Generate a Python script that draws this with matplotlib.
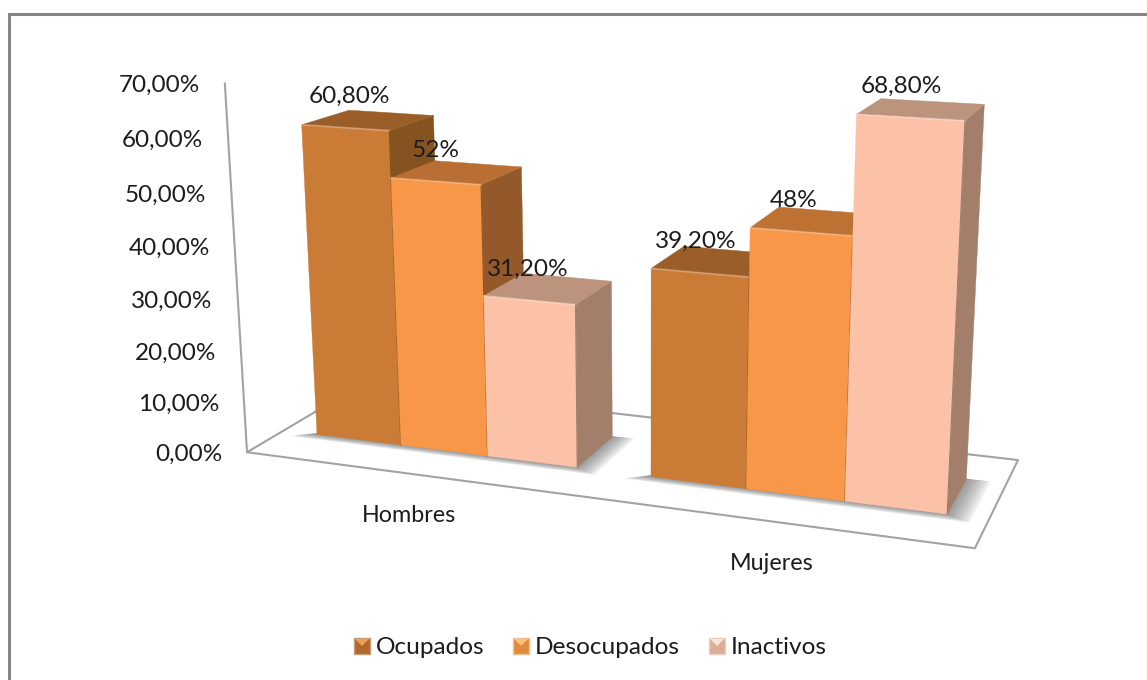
import numpy as np
import matplotlib
matplotlib.use('Agg')
import matplotlib.pyplot as plt
from matplotlib.patches import Polygon, Rectangle

plt.rcParams['font.family'] = ['Lato', 'DejaVu Sans']

categories = ['Hombres', 'Mujeres']
series_names = ['Ocupados', 'Desocupados', 'Inactivos']
ocupados = [60.8, 39.2]
desocupados = [52, 48]
inactivos = [31.2, 68.8]
value_labels = [['60,80%', '39,20%'], ['52%', '48%'], ['31,20%', '68,80%']]
ticks = [0, 10, 20, 30, 40, 50, 60, 70]
tick_labels = ['0,00%', '10,00%', '20,00%', '30,00%', '40,00%', '50,00%', '60,00%', '70,00%']

# front, top, side colours per series
colors = [('#CA7C37', '#9C5E28', '#84531F'),
          ('#F89747', '#B96F33', '#93592A'),
          ('#FCC2A7', '#BC937D', '#A37F6B')]
# legend key: body, top triangle, border
legend_colors = [('#B2682C', '#E9A254', '#C79A78'),
                 ('#E18A3C', '#FFC272', '#EDBE98'),
                 ('#DDAE96', '#FBE3D6', '#E6CFC4')]
text_color = '#1c1c1c'
line_color = '#a3a3a3'

# bar layout in world units: one unit per category, depth 0..1
margin = 0.105
bar_w = (1 - 2 * margin) / 3
d0, d1 = 0.3, 0.7

# anchors (world x, depth, value) -> picture pixel, used to fit the camera
xe = [margin + i * bar_w for i in range(4)]
anchors = [
    ((0, 0, 0), (247, 453)), ((2, 0, 0), (973, 548)),
    ((2, 1, 0), (1018, 460)), ((0, 1, 0), (364, 383)),
    ((0, 0, 70), (226, 82)),
    ((xe[0], d0, 0), (315, 435)), ((xe[3], d0, 0), (579, 467)),
    ((1 + xe[0], d0, 0), (650, 477)), ((1 + xe[3], d0, 0), (948, 514)),
    ((xe[0], d0, 60.8), (303, 125)), ((xe[1], d0, 60.8), (390, 130)),
    ((1 + xe[2], d0, 68.8), (858, 115)), ((1 + xe[3], d0, 68.8), (965, 120)),
    ((1 + xe[3], d1, 68.8), (984, 105)), ((1 + xe[3], d1, 0), (968, 478)),
    ((xe[3], d1, 31.2), (610, 283)), ((xe[3], d1, 0), (612, 437)),
    ((xe[1], d1, 60.8), (431, 115)), ((xe[2], d1, 52), (520, 168)),
]


def fit_camera(anchors):
    rows = []
    for (x, d, z), (u, v) in anchors:
        w = [x, d, z / 70.0, 1.0]
        u, v = u / 1000.0, v / 1000.0
        rows.append(w + [0, 0, 0, 0] + [-u * c for c in w])
        rows.append([0, 0, 0, 0] + w + [-v * c for c in w])
    _, _, vt = np.linalg.svd(np.array(rows))
    return vt[-1].reshape(3, 4)


P = fit_camera(anchors)


def proj(x, d, z):
    p = P @ np.array([x, d, z / 70.0, 1.0])
    return (1000.0 * p[0] / p[2], 1000.0 * p[1] / p[2])


def face(ax, pts, color, z=3, ec=None, lw=0, alpha=1):
    ax.add_patch(Polygon([proj(*q) for q in pts], closed=True, fc=color,
                         ec=ec if ec else color, lw=lw if ec else 0.3,
                         alpha=alpha, zorder=z, joinstyle='round'))


fig = plt.figure(figsize=(11.47, 6.8), dpi=100)
ax = fig.add_axes([0, 0, 1, 1])
ax.set_xlim(0, 1147)
ax.set_ylim(680, 0)
ax.axis('off')

# chart frame
ax.plot([9, 9, 1147], [680, 13.5, 13.5], color='#868686', lw=2.2, zorder=1,
        solid_joinstyle='miter')

# floor and left axis line
floor = [(0, 0, 0), (2, 0, 0), (2, 1, 0), (0, 1, 0)]
face(ax, floor, 'white', z=1.5, ec=line_color, lw=1.5)
ax.plot(*zip(proj(0, 0, 0), proj(0, 0, 70)), color=line_color, lw=1.5, zorder=1.6)

# soft shadow below each group
for g in range(2):
    for k in range(14):
        e = 0.001 + 0.0028 * k
        x0, x1 = g + xe[0] - 1.6 * e, g + xe[3] + 1.7 * e
        a, b = d0 - 1.5 * e, d1 + 0.2 * e
        pts = [(x0, a, 0), (x1, a, 0), (x1, b, 0), (g + xe[0], b, 0), (g + xe[0], d0 + 0.02, 0)]
        face(ax, pts, '#555555', z=2, alpha=0.055)

all_values = [ocupados, desocupados, inactivos]
for g in range(2):
    for s in range(3):
        v = all_values[s][g]
        xa, xb = g + xe[s], g + xe[s + 1]
        cf, ct, cs = colors[s]
        if g == 1 and s == 1:
            ct = '#BD7233'
        z = 3 + 0.1 * (g * 3 + s)
        face(ax, [(xb, d0, 0), (xb, d1, 0), (xb, d1, v), (xb, d0, v)], cs, z=z)
        face(ax, [(xa, d0, v), (xb, d0, v), (xb, d1, v), (xa, d1, v)], ct, z=z)
        face(ax, [(xa, d0, 0), (xb, d0, 0), (xb, d0, v), (xa, d0, v)], cf, z=z + 0.01)
        # dark edge at the foot of the bar divider, light bevel along the top
        ax.plot(*zip(proj(xb, d0, 0), proj(xb, d0, v)), color=cs, lw=0.9, zorder=z + 0.02)
        ax.plot(*zip(proj(xa, d0, v), proj(xb, d0, v)), color='white', alpha=0.25,
                lw=1.4, zorder=z + 0.02)

# value labels, placed from the top front edge of each bar
label_dx = [[4, -4], [0, -7], [-2, -9]]
for g in range(2):
    for s in range(3):
        v = all_values[s][g]
        u, w = proj(g + xe[s] + bar_w / 2, d0, v)
        ax.text(u + label_dx[s][g], w - 31, value_labels[s][g], fontsize=17.6,
                color=text_color, ha='center', va='center', zorder=10)

# value axis labels
for t, lab in zip(ticks, tick_labels):
    u, w = proj(0, 0, t)
    ax.text(u - 25, w + 2, lab, fontsize=17.5, color=text_color, ha='right', va='center')

# category labels
for g, lab in enumerate(categories):
    u, w = proj(g + 0.5, 0, 0)
    ax.text(u - 2, w + 42, lab, fontsize=16.8, color=text_color, ha='center', va='center')

# legend
legend_x = [354, 513, 709]
for x, name, (body, tri, edge) in zip(legend_x, series_names, legend_colors):
    ax.add_patch(Rectangle((x, 638), 16, 16, fc=body, ec=edge, lw=1.0, zorder=5))
    ax.add_patch(Polygon([(x + 1, 639), (x + 15, 639), (x + 8, 646)], fc=tri, lw=0, zorder=6))
    ax.text(x + 22, 647, name, fontsize=17.6, color=text_color, ha='left', va='center')

fig.savefig('out.png', dpi=100)
